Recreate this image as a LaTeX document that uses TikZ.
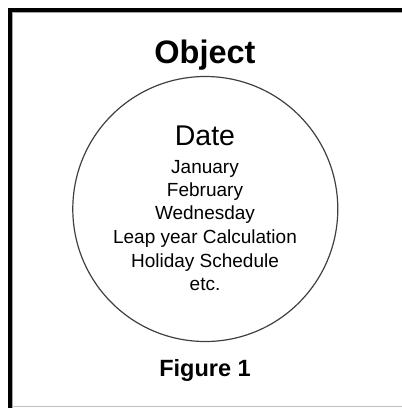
\documentclass[tikz,border=0pt]{standalone}
\usepackage{fontspec}
\setmainfont{Liberation Sans}
\begin{document}
\begin{tikzpicture}[x=1pt,y=-1pt,
  item/.style={anchor=base,inner sep=0pt,font=\fontsize{19}{22}\selectfont},
  ring/.style={circle,draw=black!75,line width=1.2pt,inner sep=0pt,minimum size=265pt}]
\useasboundingbox (0,0) rectangle (402,408);
\fill[black] (8,8) rectangle (12,408);
\fill[black] (8,8) rectangle (402,12);
\draw[black!35,line width=1pt] (12.5,408) -- (12.5,12.5) -- (402,12.5);
\draw[black!25,line width=1pt] (12,406.5) -- (402,406.5);
\node[ring] (obj) at (205.3,209) {};
\node[anchor=base,inner sep=0pt,font=\fontsize{32.5}{36}\selectfont\bfseries] (title) at (205,63) {Object};
\node[anchor=base,inner sep=0pt,font=\fontsize{28.5}{32}\selectfont] (date) at (205,145) {Date};
\node[item] (l1) at (205,173.5) {January};
\node[item] (l2) at (205,196.5) {February};
\node[item] (l3) at (205,219.5) {Wednesday};
\node[item] (l4) at (205,243) {Leap year Calculation};
\node[item] (l5) at (205,267) {Holiday Schedule};
\node[item] (l6) at (205,290.5) {etc.};
\node[anchor=base,inner sep=0pt,font=\fontsize{23.5}{27}\selectfont\bfseries] (fig) at (205,376) {Figure 1};
\end{tikzpicture}
\end{document}
